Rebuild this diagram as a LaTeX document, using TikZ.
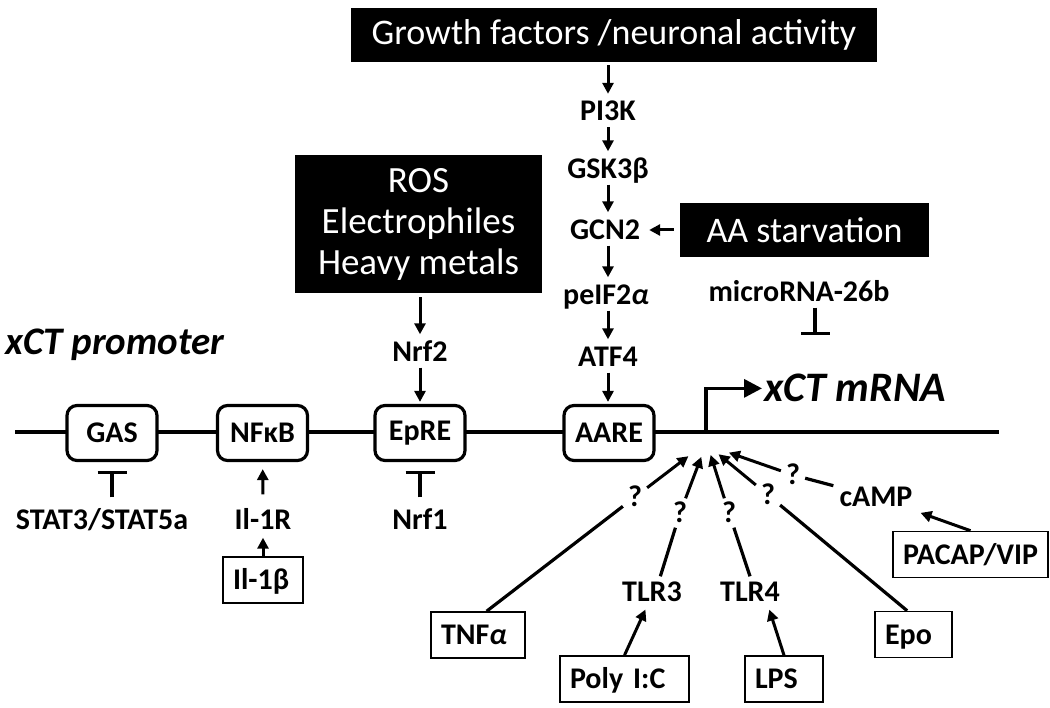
\documentclass[tikz,border=0pt]{standalone}
\usepackage{fontspec}
\setmainfont{Carlito}
\usetikzlibrary{arrows.meta,positioning}
\newcommand{\lblfont}{\fontsize{30}{34}\selectfont\bfseries}
\newcommand{\boxfont}{\fontsize{36}{41}\selectfont}
\newcommand{\rosfont}{\fontsize{37}{41}\selectfont}
\newcommand{\promfont}{\fontsize{39}{44}\selectfont\bfseries\itshape}
\newcommand{\mrnafont}{\fontsize{42}{46}\selectfont\bfseries\itshape}
\newcommand{\alf}{{\itshape α}}
\tikzstyle{arrow} = [line width=3pt, -{Triangle[length=11pt,width=11pt]}, shorten >=2pt]
\tikzstyle{inhibit} = [line width=3.2pt, -{Bar[width=29pt]}]
\tikzstyle{dna} = [line width=3.4pt]
\tikzstyle{link} = [line width=3.2pt]
\tikzstyle{blackbox} = [fill=black, text=white, font=\boxfont, inner sep=0pt]
\tikzstyle{site} = [draw, rounded corners=10pt, line width=3.2pt, fill=white, minimum width=90pt, minimum height=55pt, font=\lblfont]
\tikzstyle{gene} = [font=\lblfont, text height=19pt, text depth=0pt, inner sep=6pt]
\tikzstyle{query} = [font=\lblfont, text height=19pt, text depth=0pt, inner sep=5pt]
\tikzstyle{inbox} = [draw, line width=1.6pt, font=\lblfont, text height=19pt, text depth=0pt, inner xsep=10pt, inner ysep=6pt, minimum height=46pt, align=left]

\begin{document}
\begin{tikzpicture}[x=1pt,y=-1pt]
\useasboundingbox (0,0) rectangle (1050,708);

% stimuli
\node[blackbox, minimum width=526pt, minimum height=54pt] (growth) at (614,35) {Growth factors /neuronal activity};
\node[blackbox, font=\rosfont, minimum width=247pt, minimum height=138pt, align=center] (ros) at (418.5,224) {ROS\\Electrophiles\\Heavy metals};
\node[blackbox, minimum width=249pt, minimum height=54pt] (aa) at (804.5,230) {AA starvation};

% signalling chain
\node[gene] (pik) at (608,111.5) {PI3K};
\node[gene] (gsk) at (608,169) {GSK3β};
\node[gene] (gcn) at (605,230) {GCN2};
\node[gene] (eif) at (606,295) {peIF2\alf};
\node[gene] (atf) at (608,357) {ATF4};
\node[gene] (nrf2) at (420,352) {Nrf2};
\node[gene] (mir) at (799,292) {microRNA-26b};
\coordinate (mirbar) at (815,335);

% promoter
\coordinate (startL) at (15,432);
\coordinate (endR) at (999,432);
\draw[dna] (startL) -- (endR);
\node[site] (gas) at (112,433) {GAS};
\node[site] (nfkb) at (262.5,433) {NFκB};
\node[site] (epre) at (420,433) {EpRE};
\node[site] (aare) at (609,433) {AARE};
\node[anchor=base west, font=\promfont, inner sep=2pt] (prom) at (3,355) {xCT promoter};
\coordinate (tss) at (706,432);
\node[anchor=base west, font=\mrnafont, inner sep=2pt] (mrna) at (762,402) {xCT mRNA};

% factors below the promoter
\node[gene] (stat) at (102,520) {STAT3/STAT5a};
\node[gene] (il1r) at (263,520) {Il-1R};
\node[gene] (nrf1) at (420,520) {Nrf1};
\node[inbox, text width=60pt] (il1b) at (263,580) {Il-1β};
\node[inbox, text width=74pt] (tnf) at (478,635) {TNF\alf};
\node[inbox, text width=109pt] (poly) at (624.5,679) {Poly I:C};
\node[inbox, text width=58pt] (lps) at (784,679) {LPS};
\node[inbox, text width=57pt] (epo) at (913.5,634.5) {Epo};
\node[inbox, text width=135pt, align=center] (pacap) at (970.5,554.5) {PACAP/VIP};
\node[gene] (tlr3) at (652,592) {TLR3};
\node[gene] (tlr4) at (750,592) {TLR4};
\node[gene] (camp) at (876,497) {cAMP};
\node[query] (q1) at (635,497) {?};
\node[query] (q2) at (680,513) {?};
\node[query] (q3) at (729,513) {?};
\node[query] (q4) at (768,495) {?};
\node[query] (q5) at (793,475) {?};
\coordinate (t1) at (690,455);
\coordinate (t2) at (702,455);
\coordinate (t3) at (710,453);
\coordinate (t4) at (717,453);
\coordinate (t5) at (727,452);

% arrows
\draw[arrow, shorten <=3pt] (growth.south -| pik) -- (pik);
\draw[arrow] (pik) -- (gsk);
\draw[arrow] (gsk) -- (gsk |- gcn.north);
\draw[arrow] (gsk |- gcn.south) -- (gsk |- eif.north);
\draw[arrow] (gsk |- eif.south) -- (atf);
\draw[arrow] (atf) -- (atf |- aare.north);
\draw[arrow, shorten <=6pt, shorten >=3pt] (aa) -- (gcn);
\draw[arrow, shorten <=4pt] (ros.south -| nrf2) -- (nrf2);
\draw[arrow] (nrf2) -- (epre);
\draw[inhibit] (mir.south -| mirbar) -- (mirbar);
\draw[dna, -{Triangle[length=18pt,width=18pt]}] (tss) |- (mrna.west);

\draw[inhibit, shorten <=7pt, shorten >=9pt] (stat.north -| gas) -- (gas);
\draw[inhibit, shorten <=7pt, shorten >=9pt] (nrf1) -- (epre);
\draw[arrow, shorten <=10pt, shorten >=7pt] (il1r) -- (nfkb);
\draw[arrow] (il1b) -- (il1r);

\draw[link] (tnf.70) -- (q1);
\draw[link] (tlr3.62) -- (q2);
\draw[link] (tlr4.north) -- (q3);
\draw[link] (epo.105) -- (q4);
\draw[link] (camp) -- (q5);
\draw[arrow] (q1) -- (t1);
\draw[arrow] (q2) -- (t2);
\draw[arrow] (q3) -- (t3);
\draw[arrow] (q4) -- (t4);
\draw[arrow] (q5) -- (t5);
\draw[arrow] (poly.north) -- (tlr3.-110);
\draw[arrow] (lps.north) -- (tlr4.-40);
\draw[arrow] (pacap.north) -- (camp);
\end{tikzpicture}
\end{document}
